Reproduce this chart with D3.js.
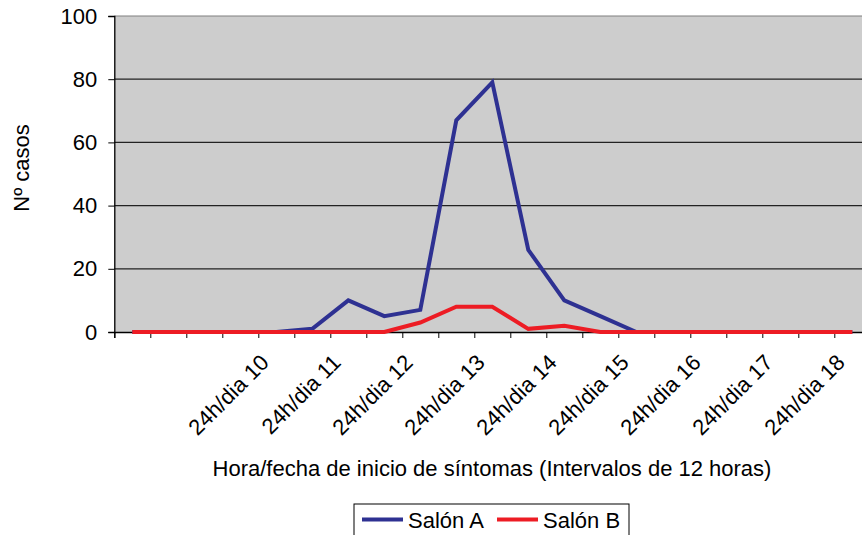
<!DOCTYPE html>
<html><head><meta charset="utf-8">
<script src="https://cdn.jsdelivr.net/npm/d3@7"></script>
<style>body{margin:0;background:#fff}svg text{font-family:"Liberation Sans",Arial,sans-serif;fill:#000}</style>
</head><body><svg id="c" width="862" height="535"></svg>
<script>
const categories = d3.range(21).map(i => "P" + (i + 1));
const salonA = [0,0,0,0,0,1,10,5,7,67,79,26,10,5,0,0,0,0,0,0,0];
const salonB = [0,0,0,0,0,0,0,0,3,8,8,1,2,0,0,0,0,0,0,0,0];
const tickLabels = ["","","","","24h/dia 10","","24h/dia 11","","24h/dia 12","","24h/dia 13","","24h/dia 14","","24h/dia 15","","24h/dia 16","","24h/dia 17","","24h/dia 18"];
const yTicks = [0,20,40,60,80,100];
const seriesNames = ["Salón A","Salón B"];
const seriesColors = ["#2E3192","#ED1C24"];

const svg = d3.select("#c");
const L = 114.3, B = 332, T = 16, band = 36;
const x = d3.scaleBand().domain(categories).range([L, L + band*categories.length]);
const xb = d3.scaleLinear().domain([0, categories.length]).range([L, L + band*categories.length]);
const y = d3.scaleLinear().domain([0,100]).range([B, T]);
const FS = "22px";

svg.append("rect").attr("x",L).attr("y",T).attr("width",band*categories.length).attr("height",B-T).attr("fill","#CDCDCD");
svg.append("g").selectAll("line").data(yTicks.filter(d=>d>0)).join("line")
  .attr("x1",L).attr("x2",L+band*categories.length).attr("y1",d=>y(d)).attr("y2",d=>y(d))
  .attr("stroke",d=>d===100?"#808080":"#222").attr("stroke-width",1.2);

// y axis
const ya = svg.append("g").attr("transform",`translate(${L},0)`).call(d3.axisLeft(y).tickValues(yTicks).tickSize(6).tickPadding(11));
ya.select(".domain").attr("stroke","#000").attr("stroke-width",1.3);
ya.selectAll(".tick line").attr("stroke","#000");
ya.selectAll("text").style("font-size",FS);
// x axis
const xa = svg.append("g").attr("transform",`translate(0,${B})`).call(d3.axisBottom(xb).tickValues(d3.range(tickLabels.length)).tickSize(6).tickFormat(i=>tickLabels[i]));
xa.select(".domain").attr("stroke","#000").attr("stroke-width",1.3);
xa.selectAll(".tick line").attr("stroke","#000");
xa.selectAll("text").style("font-size",FS).attr("text-anchor","end")
  .attr("transform","translate(6,26.5) rotate(-45)").attr("dy","0.35em").attr("y",0);

const line = d3.line().x((d,i)=>x(categories[i])+band/2).y(d=>y(d));
[salonA, salonB].forEach((s,k)=>{
  svg.append("path").datum(s).attr("d",line).attr("fill","none").attr("stroke",seriesColors[k]).attr("stroke-width",4).attr("stroke-linejoin","miter");
});

svg.append("text").attr("transform","translate(29,168) rotate(-90)").attr("text-anchor","middle").style("font-size",FS).text("Nº casos");
svg.append("text").attr("x",492).attr("y",476).attr("text-anchor","middle").style("font-size",FS).text("Hora/fecha de inicio de síntomas (Intervalos de 12 horas)");

// legend
const lg = svg.append("g");
lg.append("rect").attr("x",354).attr("y",504).attr("width",275).attr("height",40).attr("fill","#fff").attr("stroke","#000").attr("stroke-width",1);
const lx = [362, 497];
seriesNames.forEach((n,k)=>{
  lg.append("line").attr("x1",lx[k]).attr("x2",lx[k]+41).attr("y1",519.5).attr("y2",519.5).attr("stroke",seriesColors[k]).attr("stroke-width",4);
  lg.append("text").attr("x",lx[k]+46).attr("y",528).style("font-size",FS).text(n);
});
</script></body></html>
